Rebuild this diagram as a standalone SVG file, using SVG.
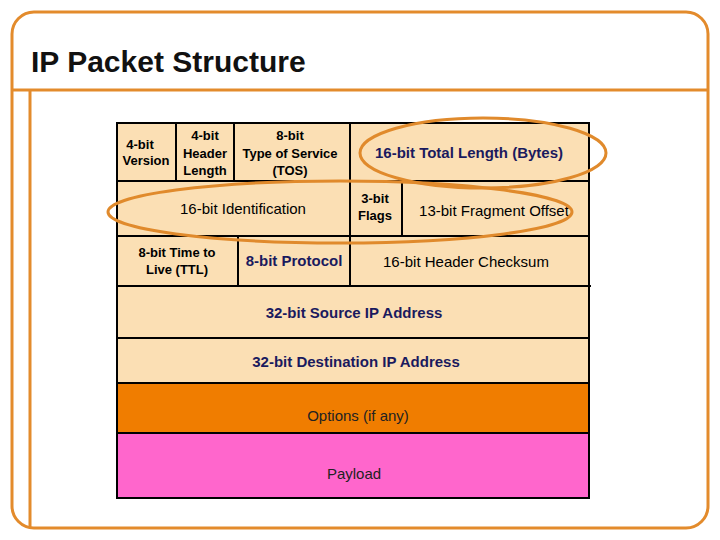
<svg xmlns="http://www.w3.org/2000/svg" width="720" height="540" viewBox="0 0 720 540">
<style>
.c{fill:#fbdfb4}
.ln{stroke:#000;stroke-width:2;fill:none}
.b{font-family:"Liberation Sans",Arial,sans-serif;font-weight:bold;font-size:13px;text-anchor:middle}
.n{font-family:"Liberation Sans",Arial,sans-serif;font-size:15px;text-anchor:middle}
.nv{fill:#1a1a5e;font-weight:bold;font-size:15px}
.ov{fill:none;stroke:#e08a2c;stroke-width:3}
</style>
<rect width="720" height="540" fill="#fff"/>
<g id="frame">
<rect x="12" y="12" width="696" height="516" rx="22" fill="none" stroke="#e38b2c" stroke-width="3"/>
<line x1="12" y1="90" x2="708" y2="90" stroke="#e38b2c" stroke-width="3"/>
<line x1="30" y1="90" x2="30" y2="528" stroke="#e38b2c" stroke-width="3"/>
<text x="31" y="72" font-family="'Liberation Sans',Arial,sans-serif" font-size="30" font-weight="bold" fill="#111">IP Packet Structure</text>
</g>
<g id="table">
<rect class="c" x="117" y="123" width="472" height="260"/>
<rect x="117" y="383" width="472" height="50" fill="#f07d00"/>
<rect x="117" y="433" width="472" height="65" fill="#ff66cc"/>
<g class="ln">
<path d="M117 123H589V498H117Z"/>
<path d="M117 181H589M117 236H589M117 286H591M117 338H589M117 383H589M117 433H589"/>
<path d="M176 123V181M234 123V181M350 123V286M402 181V236M238 236V286"/>
</g>
</g>
<g id="labels">
<text class="b" x="140" y="149">4-bit</text><text class="b" x="146" y="165">Version</text>
<text class="b" x="205" y="140">4-bit</text><text class="b" x="205" y="158">Header</text><text class="b" x="205" y="175">Length</text>
<text class="b" x="290" y="140">8-bit</text><text class="b" x="290" y="158">Type of Service</text><text class="b" x="290" y="175">(TOS)</text>
<text class="n nv" x="469" y="158">16-bit Total Length (Bytes)</text>
<text class="n" x="243" y="214">16-bit Identification</text>
<text class="b" x="375" y="203">3-bit</text><text class="b" x="375" y="220">Flags</text>
<text class="n" x="494" y="216">13-bit Fragment Offset</text>
<text class="b" x="177" y="257">8-bit Time to</text><text class="b" x="177" y="274">Live (TTL)</text>
<text class="n nv" x="294" y="266">8-bit Protocol</text>
<text class="n" x="466" y="267">16-bit Header Checksum</text>
<text class="n nv" x="354" y="318">32-bit Source IP Address</text>
<text class="n nv" x="356" y="367">32-bit Destination IP Address</text>
<text class="n" x="358" y="421" fill="#222">Options (if any)</text>
<text class="n" x="354" y="479" fill="#222">Payload</text>
</g>
<g id="highlights">
<ellipse class="ov" cx="483" cy="153" rx="123" ry="35"/>
<ellipse class="ov" cx="340" cy="212" rx="232" ry="31"/>
</g>
</svg>
